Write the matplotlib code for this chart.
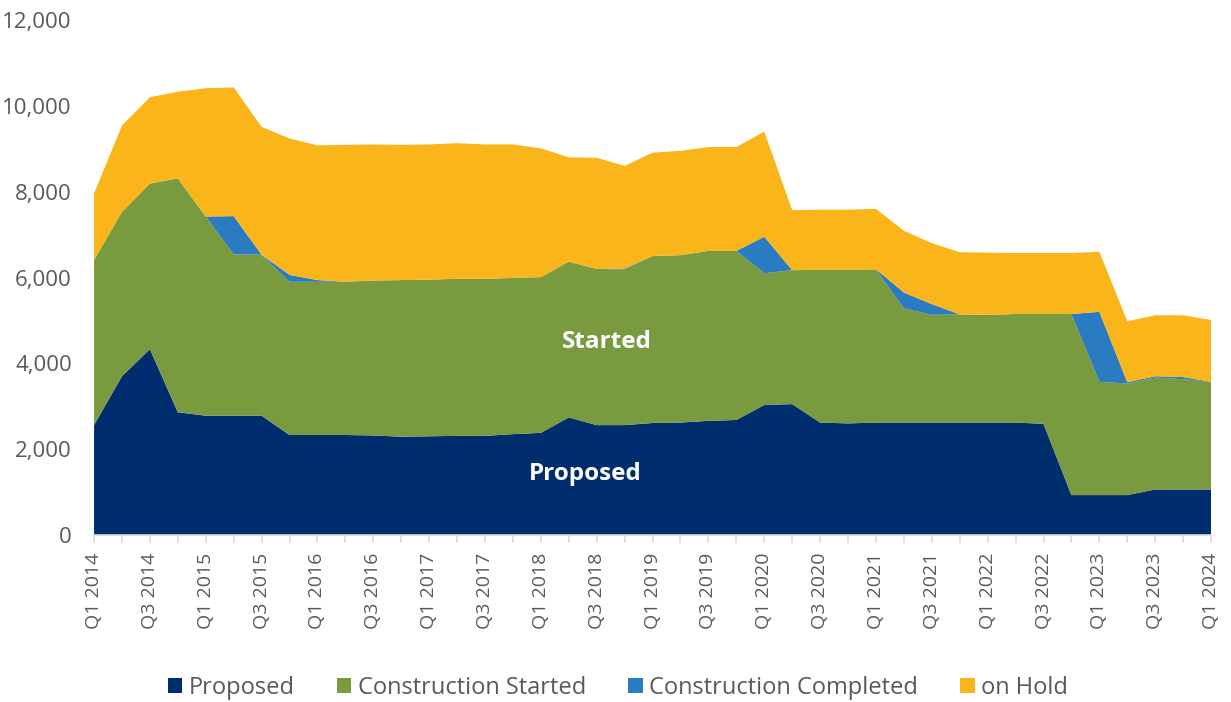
import numpy as np
import matplotlib.pyplot as plt

# quarterly values, Q1 2014 .. Q1 2024
quarters = []
for yr in range(2014, 2025):
    for q in range(1, 5):
        quarters.append(f"Q{q} {yr}")
quarters = quarters[:41]

proposed = [2560, 3700, 4330, 2860, 2780, 2780, 2780, 2330, 2330, 2330,
            2320, 2290, 2300, 2310, 2310, 2350, 2380, 2740, 2560, 2560,
            2610, 2620, 2660, 2680, 3030, 3050, 2620, 2600, 2620, 2620,
            2620, 2620, 2620, 2620, 2590, 930, 930, 930, 1060, 1060, 1060]
started = [3850, 3830, 3860, 5450, 4640, 3760, 3750, 3570, 3570, 3570,
           3610, 3650, 3650, 3660, 3660, 3640, 3630, 3630, 3640, 3630,
           3890, 3900, 3960, 3940, 3070, 3120, 3560, 3580, 3570, 2660,
           2510, 2520, 2510, 2530, 2560, 4220, 2640, 2600, 2610, 2570, 2510]
completed = [0, 0, 0, 0, 0, 890, 0, 160, 40, 0,
             0, 0, 0, 0, 0, 0, 0, 0, 0, 20,
             0, 0, 0, 0, 850, 0, 0, 0, 0, 370,
             250, 0, 0, 0, 0, 0, 1630, 30, 30, 50, 0]
on_hold = [1550, 2010, 2010, 2020, 2990, 3000, 2980, 3180, 3140, 3190,
           3170, 3150, 3150, 3160, 3130, 3110, 3000, 2430, 2590, 2390,
           2410, 2430, 2420, 2420, 2450, 1400, 1400, 1400, 1410, 1440,
           1420, 1450, 1450, 1420, 1420, 1420, 1400, 1420, 1420, 1440, 1440]

series_names = ["Proposed", "Construction Started", "Construction Completed", "on Hold"]
colors = ["#002D6D", "#7A9A3F", "#2A7BBF", "#FAB51A"]

plt.rcParams['font.family'] = ['Open Sans', 'DejaVu Sans']

fig = plt.figure(figsize=(12.31, 7.02), dpi=100)
ax = fig.add_axes([0.0764, 0.2379, 0.9074, 0.7336])

x = np.arange(len(quarters))
ax.stackplot(x, proposed, started, completed, on_hold,
             colors=colors, labels=series_names, linewidth=0)

ax.set_xlim(0, len(quarters) - 1)
ax.set_ylim(0, 12000)
ax.set_yticks(range(0, 12001, 2000))
ax.set_yticklabels([f"{v:,}" for v in range(0, 12001, 2000)])

ax.set_xticks(x)
ax.set_xticklabels([q if i % 2 == 0 else "" for i, q in enumerate(quarters)],
                   rotation=90)

for s in ["top", "right", "left"]:
    ax.spines[s].set_visible(False)
ax.spines["bottom"].set_color("#D9D9D9")
ax.spines["bottom"].set_linewidth(1.2)
ax.tick_params(axis="x", colors="#D9D9D9", length=5.5, width=1.2,
               labelcolor="#595959", labelsize=14, pad=7)
ax.tick_params(axis="y", length=0, labelcolor="#595959", labelsize=16, pad=16)

ax.text(18.35, 4500, "Started", color="white", fontsize=17.5, fontweight="bold",
        ha="center", va="center")
ax.text(17.6, 1420, "Proposed", color="white", fontsize=17.5, fontweight="bold",
        ha="center", va="center")

fig.legend(*ax.get_legend_handles_labels(), loc="center", ncol=4,
           bbox_to_anchor=(0.502, 0.02), frameon=False, fontsize=17,
           handlelength=0.6, handleheight=0.6, handletextpad=0.27,
           columnspacing=1.8, labelcolor="#595959")

fig.savefig("out.png", dpi=100)
